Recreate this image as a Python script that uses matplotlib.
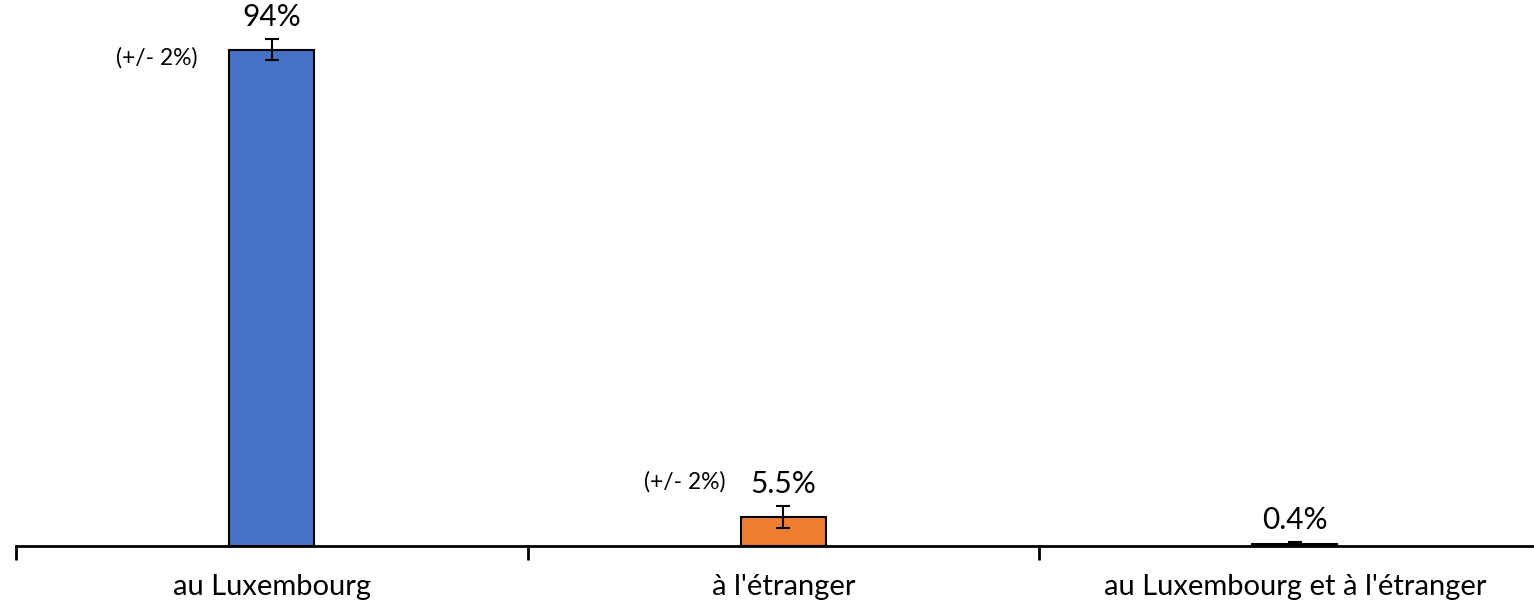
import numpy as np
import matplotlib.pyplot as plt

# Data

categories = ["au Luxembourg", "à l'étranger", "au Luxembourg et à l'étranger"]
values = [94, 5.5, 0.4]
errors = [2, 2, 0.3]
value_labels = ["94%", "5.5%", "0.4%"]
margin_labels = ["(+/- 2%)", "(+/- 2%)", ""]
colors = ["#4472C4", "#ED7D31", "#A5A5A5"]

# where the margin notes sit relative to the bar top (points)
margin_offsets = [(-83, -6), (-71, 25), (0, 0)]

plt.rcParams['font.family'] = ['Lato', 'DejaVu Sans']

fig = plt.figure(figsize=(15.34, 6.08), dpi=100)
ax = fig.add_axes([16 / 1534, 1 - 546 / 608, 1518 / 1534, 546 / 608])

x = np.arange(len(categories))
ax.bar(x, values, width=0.166, color=colors, edgecolor="black", linewidth=1.5,
       yerr=errors, error_kw=dict(ecolor="black", elinewidth=1.5, capsize=5, capthick=1.5))

ax.set_xlim(-0.5, -0.5 + 1518 / 511.5)
ax.set_ylim(0, 103.4)

# value labels above bars, margin labels to the left
for i in range(len(categories)):
    ax.annotate(value_labels[i], (x[i], values[i] + errors[i]), xytext=(0, 16),
                textcoords="offset points", ha="center", va="center", fontsize=21.5)
    if margin_labels[i]:
        ax.annotate(margin_labels[i], (x[i], values[i]), xytext=margin_offsets[i],
                    textcoords="offset points", ha="center", va="center", fontsize=16.5)

for s in ["top", "right", "left"]:
    ax.spines[s].set_visible(False)
ax.spines["bottom"].set_linewidth(2)
ax.set_yticks([])

ax.set_xticks(x)
ax.set_xticklabels(categories, fontsize=21)
ax.tick_params(axis="x", which="major", length=0, pad=20)
ax.set_xticks([-0.5, 0.5, 1.5], minor=True)
ax.tick_params(axis="x", which="minor", length=10, width=2, direction="out")

fig.savefig("out.png", dpi=100)
